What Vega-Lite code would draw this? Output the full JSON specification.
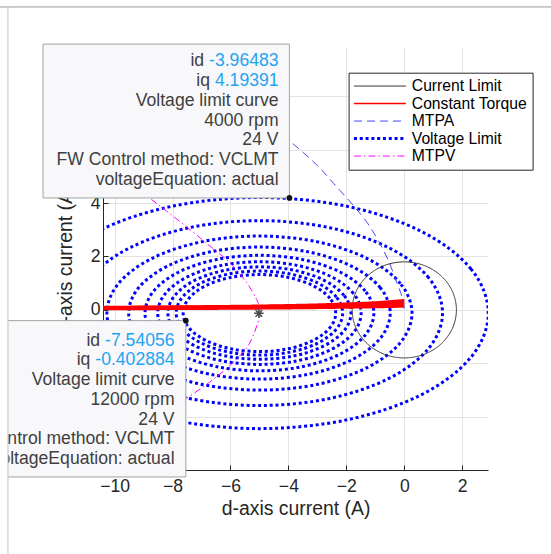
{
  "$schema": "https://vega.github.io/schema/vega-lite/v6.json",
  "width": 385,
  "height": 423,
  "autosize": "none",
  "padding": {"left": 103, "top": 47, "right": 63, "bottom": 84},
  "background": "white",
  "config": {
    "font": "Liberation Sans",
    "view": {"stroke": null},
    "axis": {
      "domainColor": "#262626",
      "tickColor": "#262626",
      "labelColor": "#262626",
      "titleColor": "#262626",
      "labelFontSize": 17.6,
      "titleFontSize": 19.4,
      "titleFontWeight": "normal",
      "gridColor": "#e3e3e3",
      "labelFlush": false,
      "labelOverlap": false
    }
  },
  "datasets": {
    "curves": [
      {"series": "Voltage Limit", "curve": "v4000", "i": 0, "x": 2.9, "y": -0.12},
      {"series": "Voltage Limit", "curve": "v4000", "i": 1, "x": 2.299, "y": 1.537},
      {"series": "Voltage Limit", "curve": "v4000", "i": 2, "x": 0.586, "y": 2.942},
      {"series": "Voltage Limit", "curve": "v4000", "i": 3, "x": -1.977, "y": 3.88},
      {"series": "Voltage Limit", "curve": "v4000", "i": 4, "x": -5, "y": 4.21},
      {"series": "Voltage Limit", "curve": "v4000", "i": 5, "x": -8.023, "y": 3.88},
      {"series": "Voltage Limit", "curve": "v4000", "i": 6, "x": -10.586, "y": 2.942},
      {"series": "Voltage Limit", "curve": "v4000", "i": 7, "x": -12.299, "y": 1.537},
      {"series": "Voltage Limit", "curve": "v4000", "i": 8, "x": -12.9, "y": -0.12},
      {"series": "Voltage Limit", "curve": "v4000", "i": 9, "x": -12.299, "y": -1.777},
      {"series": "Voltage Limit", "curve": "v4000", "i": 10, "x": -10.586, "y": -3.182},
      {"series": "Voltage Limit", "curve": "v4000", "i": 11, "x": -8.023, "y": -4.12},
      {"series": "Voltage Limit", "curve": "v4000", "i": 12, "x": -5, "y": -4.45},
      {"series": "Voltage Limit", "curve": "v4000", "i": 13, "x": -1.977, "y": -4.12},
      {"series": "Voltage Limit", "curve": "v4000", "i": 14, "x": 0.586, "y": -3.182},
      {"series": "Voltage Limit", "curve": "v4000", "i": 15, "x": 2.299, "y": -1.777},

      {"series": "Voltage Limit", "curve": "v5000", "i": 0, "x": 1.32, "y": -0.12},
      {"series": "Voltage Limit", "curve": "v5000", "i": 1, "x": 0.839, "y": 1.206},
      {"series": "Voltage Limit", "curve": "v5000", "i": 2, "x": -0.531, "y": 2.329},
      {"series": "Voltage Limit", "curve": "v5000", "i": 3, "x": -2.581, "y": 3.08},
      {"series": "Voltage Limit", "curve": "v5000", "i": 4, "x": -5, "y": 3.344},
      {"series": "Voltage Limit", "curve": "v5000", "i": 5, "x": -7.419, "y": 3.08},
      {"series": "Voltage Limit", "curve": "v5000", "i": 6, "x": -9.469, "y": 2.329},
      {"series": "Voltage Limit", "curve": "v5000", "i": 7, "x": -10.839, "y": 1.206},
      {"series": "Voltage Limit", "curve": "v5000", "i": 8, "x": -11.32, "y": -0.12},
      {"series": "Voltage Limit", "curve": "v5000", "i": 9, "x": -10.839, "y": -1.446},
      {"series": "Voltage Limit", "curve": "v5000", "i": 10, "x": -9.469, "y": -2.569},
      {"series": "Voltage Limit", "curve": "v5000", "i": 11, "x": -7.419, "y": -3.32},
      {"series": "Voltage Limit", "curve": "v5000", "i": 12, "x": -5, "y": -3.584},
      {"series": "Voltage Limit", "curve": "v5000", "i": 13, "x": -2.581, "y": -3.32},
      {"series": "Voltage Limit", "curve": "v5000", "i": 14, "x": -0.531, "y": -2.569},
      {"series": "Voltage Limit", "curve": "v5000", "i": 15, "x": 0.839, "y": -1.446},

      {"series": "Voltage Limit", "curve": "v6000", "i": 0, "x": 0.267, "y": -0.12},
      {"series": "Voltage Limit", "curve": "v6000", "i": 1, "x": -0.134, "y": 0.985},
      {"series": "Voltage Limit", "curve": "v6000", "i": 2, "x": -1.276, "y": 1.921},
      {"series": "Voltage Limit", "curve": "v6000", "i": 3, "x": -2.984, "y": 2.547},
      {"series": "Voltage Limit", "curve": "v6000", "i": 4, "x": -5, "y": 2.767},
      {"series": "Voltage Limit", "curve": "v6000", "i": 5, "x": -7.016, "y": 2.547},
      {"series": "Voltage Limit", "curve": "v6000", "i": 6, "x": -8.724, "y": 1.921},
      {"series": "Voltage Limit", "curve": "v6000", "i": 7, "x": -9.866, "y": 0.985},
      {"series": "Voltage Limit", "curve": "v6000", "i": 8, "x": -10.267, "y": -0.12},
      {"series": "Voltage Limit", "curve": "v6000", "i": 9, "x": -9.866, "y": -1.225},
      {"series": "Voltage Limit", "curve": "v6000", "i": 10, "x": -8.724, "y": -2.161},
      {"series": "Voltage Limit", "curve": "v6000", "i": 11, "x": -7.016, "y": -2.787},
      {"series": "Voltage Limit", "curve": "v6000", "i": 12, "x": -5, "y": -3.007},
      {"series": "Voltage Limit", "curve": "v6000", "i": 13, "x": -2.984, "y": -2.787},
      {"series": "Voltage Limit", "curve": "v6000", "i": 14, "x": -1.276, "y": -2.161},
      {"series": "Voltage Limit", "curve": "v6000", "i": 15, "x": -0.134, "y": -1.225},

      {"series": "Voltage Limit", "curve": "v7000", "i": 0, "x": -0.486, "y": -0.12},
      {"series": "Voltage Limit", "curve": "v7000", "i": 1, "x": -0.829, "y": 0.827},
      {"series": "Voltage Limit", "curve": "v7000", "i": 2, "x": -1.808, "y": 1.629},
      {"series": "Voltage Limit", "curve": "v7000", "i": 3, "x": -3.272, "y": 2.166},
      {"series": "Voltage Limit", "curve": "v7000", "i": 4, "x": -5, "y": 2.354},
      {"series": "Voltage Limit", "curve": "v7000", "i": 5, "x": -6.728, "y": 2.166},
      {"series": "Voltage Limit", "curve": "v7000", "i": 6, "x": -8.192, "y": 1.629},
      {"series": "Voltage Limit", "curve": "v7000", "i": 7, "x": -9.171, "y": 0.827},
      {"series": "Voltage Limit", "curve": "v7000", "i": 8, "x": -9.514, "y": -0.12},
      {"series": "Voltage Limit", "curve": "v7000", "i": 9, "x": -9.171, "y": -1.067},
      {"series": "Voltage Limit", "curve": "v7000", "i": 10, "x": -8.192, "y": -1.869},
      {"series": "Voltage Limit", "curve": "v7000", "i": 11, "x": -6.728, "y": -2.406},
      {"series": "Voltage Limit", "curve": "v7000", "i": 12, "x": -5, "y": -2.594},
      {"series": "Voltage Limit", "curve": "v7000", "i": 13, "x": -3.272, "y": -2.406},
      {"series": "Voltage Limit", "curve": "v7000", "i": 14, "x": -1.808, "y": -1.869},
      {"series": "Voltage Limit", "curve": "v7000", "i": 15, "x": -0.829, "y": -1.067},

      {"series": "Voltage Limit", "curve": "v8000", "i": 0, "x": -1.05, "y": -0.12},
      {"series": "Voltage Limit", "curve": "v8000", "i": 1, "x": -1.351, "y": 0.709},
      {"series": "Voltage Limit", "curve": "v8000", "i": 2, "x": -2.207, "y": 1.411},
      {"series": "Voltage Limit", "curve": "v8000", "i": 3, "x": -3.488, "y": 1.88},
      {"series": "Voltage Limit", "curve": "v8000", "i": 4, "x": -5, "y": 2.045},
      {"series": "Voltage Limit", "curve": "v8000", "i": 5, "x": -6.512, "y": 1.88},
      {"series": "Voltage Limit", "curve": "v8000", "i": 6, "x": -7.793, "y": 1.411},
      {"series": "Voltage Limit", "curve": "v8000", "i": 7, "x": -8.649, "y": 0.709},
      {"series": "Voltage Limit", "curve": "v8000", "i": 8, "x": -8.95, "y": -0.12},
      {"series": "Voltage Limit", "curve": "v8000", "i": 9, "x": -8.649, "y": -0.949},
      {"series": "Voltage Limit", "curve": "v8000", "i": 10, "x": -7.793, "y": -1.651},
      {"series": "Voltage Limit", "curve": "v8000", "i": 11, "x": -6.512, "y": -2.12},
      {"series": "Voltage Limit", "curve": "v8000", "i": 12, "x": -5, "y": -2.285},
      {"series": "Voltage Limit", "curve": "v8000", "i": 13, "x": -3.488, "y": -2.12},
      {"series": "Voltage Limit", "curve": "v8000", "i": 14, "x": -2.207, "y": -1.651},
      {"series": "Voltage Limit", "curve": "v8000", "i": 15, "x": -1.351, "y": -0.949},

      {"series": "Voltage Limit", "curve": "v9000", "i": 0, "x": -1.489, "y": -0.12},
      {"series": "Voltage Limit", "curve": "v9000", "i": 1, "x": -1.756, "y": 0.616},
      {"series": "Voltage Limit", "curve": "v9000", "i": 2, "x": -2.517, "y": 1.24},
      {"series": "Voltage Limit", "curve": "v9000", "i": 3, "x": -3.656, "y": 1.658},
      {"series": "Voltage Limit", "curve": "v9000", "i": 4, "x": -5, "y": 1.804},
      {"series": "Voltage Limit", "curve": "v9000", "i": 5, "x": -6.344, "y": 1.658},
      {"series": "Voltage Limit", "curve": "v9000", "i": 6, "x": -7.483, "y": 1.24},
      {"series": "Voltage Limit", "curve": "v9000", "i": 7, "x": -8.244, "y": 0.616},
      {"series": "Voltage Limit", "curve": "v9000", "i": 8, "x": -8.511, "y": -0.12},
      {"series": "Voltage Limit", "curve": "v9000", "i": 9, "x": -8.244, "y": -0.856},
      {"series": "Voltage Limit", "curve": "v9000", "i": 10, "x": -7.483, "y": -1.48},
      {"series": "Voltage Limit", "curve": "v9000", "i": 11, "x": -6.344, "y": -1.898},
      {"series": "Voltage Limit", "curve": "v9000", "i": 12, "x": -5, "y": -2.044},
      {"series": "Voltage Limit", "curve": "v9000", "i": 13, "x": -3.656, "y": -1.898},
      {"series": "Voltage Limit", "curve": "v9000", "i": 14, "x": -2.517, "y": -1.48},
      {"series": "Voltage Limit", "curve": "v9000", "i": 15, "x": -1.756, "y": -0.856},

      {"series": "Voltage Limit", "curve": "v10000", "i": 0, "x": -1.84, "y": -0.12},
      {"series": "Voltage Limit", "curve": "v10000", "i": 1, "x": -2.081, "y": 0.543},
      {"series": "Voltage Limit", "curve": "v10000", "i": 2, "x": -2.766, "y": 1.105},
      {"series": "Voltage Limit", "curve": "v10000", "i": 3, "x": -3.791, "y": 1.48},
      {"series": "Voltage Limit", "curve": "v10000", "i": 4, "x": -5, "y": 1.612},
      {"series": "Voltage Limit", "curve": "v10000", "i": 5, "x": -6.209, "y": 1.48},
      {"series": "Voltage Limit", "curve": "v10000", "i": 6, "x": -7.234, "y": 1.105},
      {"series": "Voltage Limit", "curve": "v10000", "i": 7, "x": -7.919, "y": 0.543},
      {"series": "Voltage Limit", "curve": "v10000", "i": 8, "x": -8.16, "y": -0.12},
      {"series": "Voltage Limit", "curve": "v10000", "i": 9, "x": -7.919, "y": -0.783},
      {"series": "Voltage Limit", "curve": "v10000", "i": 10, "x": -7.234, "y": -1.345},
      {"series": "Voltage Limit", "curve": "v10000", "i": 11, "x": -6.209, "y": -1.72},
      {"series": "Voltage Limit", "curve": "v10000", "i": 12, "x": -5, "y": -1.852},
      {"series": "Voltage Limit", "curve": "v10000", "i": 13, "x": -3.791, "y": -1.72},
      {"series": "Voltage Limit", "curve": "v10000", "i": 14, "x": -2.766, "y": -1.345},
      {"series": "Voltage Limit", "curve": "v10000", "i": 15, "x": -2.081, "y": -0.783},

      {"series": "Voltage Limit", "curve": "v11000", "i": 0, "x": -2.127, "y": -0.12},
      {"series": "Voltage Limit", "curve": "v11000", "i": 1, "x": -2.346, "y": 0.483},
      {"series": "Voltage Limit", "curve": "v11000", "i": 2, "x": -2.969, "y": 0.994},
      {"series": "Voltage Limit", "curve": "v11000", "i": 3, "x": -3.901, "y": 1.335},
      {"series": "Voltage Limit", "curve": "v11000", "i": 4, "x": -5, "y": 1.455},
      {"series": "Voltage Limit", "curve": "v11000", "i": 5, "x": -6.099, "y": 1.335},
      {"series": "Voltage Limit", "curve": "v11000", "i": 6, "x": -7.031, "y": 0.994},
      {"series": "Voltage Limit", "curve": "v11000", "i": 7, "x": -7.654, "y": 0.483},
      {"series": "Voltage Limit", "curve": "v11000", "i": 8, "x": -7.873, "y": -0.12},
      {"series": "Voltage Limit", "curve": "v11000", "i": 9, "x": -7.654, "y": -0.723},
      {"series": "Voltage Limit", "curve": "v11000", "i": 10, "x": -7.031, "y": -1.234},
      {"series": "Voltage Limit", "curve": "v11000", "i": 11, "x": -6.099, "y": -1.575},
      {"series": "Voltage Limit", "curve": "v11000", "i": 12, "x": -5, "y": -1.695},
      {"series": "Voltage Limit", "curve": "v11000", "i": 13, "x": -3.901, "y": -1.575},
      {"series": "Voltage Limit", "curve": "v11000", "i": 14, "x": -2.969, "y": -1.234},
      {"series": "Voltage Limit", "curve": "v11000", "i": 15, "x": -2.346, "y": -0.723},

      {"series": "Voltage Limit", "curve": "v12000", "i": 0, "x": -2.367, "y": -0.12},
      {"series": "Voltage Limit", "curve": "v12000", "i": 1, "x": -2.567, "y": 0.432},
      {"series": "Voltage Limit", "curve": "v12000", "i": 2, "x": -3.138, "y": 0.9},
      {"series": "Voltage Limit", "curve": "v12000", "i": 3, "x": -3.992, "y": 1.213},
      {"series": "Voltage Limit", "curve": "v12000", "i": 4, "x": -5, "y": 1.323},
      {"series": "Voltage Limit", "curve": "v12000", "i": 5, "x": -6.008, "y": 1.213},
      {"series": "Voltage Limit", "curve": "v12000", "i": 6, "x": -6.862, "y": 0.9},
      {"series": "Voltage Limit", "curve": "v12000", "i": 7, "x": -7.433, "y": 0.432},
      {"series": "Voltage Limit", "curve": "v12000", "i": 8, "x": -7.633, "y": -0.12},
      {"series": "Voltage Limit", "curve": "v12000", "i": 9, "x": -7.433, "y": -0.672},
      {"series": "Voltage Limit", "curve": "v12000", "i": 10, "x": -6.862, "y": -1.14},
      {"series": "Voltage Limit", "curve": "v12000", "i": 11, "x": -6.008, "y": -1.453},
      {"series": "Voltage Limit", "curve": "v12000", "i": 12, "x": -5, "y": -1.563},
      {"series": "Voltage Limit", "curve": "v12000", "i": 13, "x": -3.992, "y": -1.453},
      {"series": "Voltage Limit", "curve": "v12000", "i": 14, "x": -3.138, "y": -1.14},
      {"series": "Voltage Limit", "curve": "v12000", "i": 15, "x": -2.567, "y": -0.672},

      {"series": "Current Limit", "curve": "c", "i": 0, "x": 1.8, "y": 0},
      {"series": "Current Limit", "curve": "c", "i": 1, "x": 1.663, "y": 0.689},
      {"series": "Current Limit", "curve": "c", "i": 2, "x": 1.273, "y": 1.273},
      {"series": "Current Limit", "curve": "c", "i": 3, "x": 0.689, "y": 1.663},
      {"series": "Current Limit", "curve": "c", "i": 4, "x": 0, "y": 1.8},
      {"series": "Current Limit", "curve": "c", "i": 5, "x": -0.689, "y": 1.663},
      {"series": "Current Limit", "curve": "c", "i": 6, "x": -1.273, "y": 1.273},
      {"series": "Current Limit", "curve": "c", "i": 7, "x": -1.663, "y": 0.689},
      {"series": "Current Limit", "curve": "c", "i": 8, "x": -1.8, "y": 0},
      {"series": "Current Limit", "curve": "c", "i": 9, "x": -1.663, "y": -0.689},
      {"series": "Current Limit", "curve": "c", "i": 10, "x": -1.273, "y": -1.273},
      {"series": "Current Limit", "curve": "c", "i": 11, "x": -0.689, "y": -1.663},
      {"series": "Current Limit", "curve": "c", "i": 12, "x": 0, "y": -1.8},
      {"series": "Current Limit", "curve": "c", "i": 13, "x": 0.689, "y": -1.663},
      {"series": "Current Limit", "curve": "c", "i": 14, "x": 1.273, "y": -1.273},
      {"series": "Current Limit", "curve": "c", "i": 15, "x": 1.663, "y": -0.689},

      {"series": "Constant Torque", "curve": "t1", "i": 0, "x": -10.5, "y": 0.02},
      {"series": "Constant Torque", "curve": "t1", "i": 1, "x": -8, "y": 0.03},
      {"series": "Constant Torque", "curve": "t1", "i": 2, "x": -6, "y": 0.04},
      {"series": "Constant Torque", "curve": "t1", "i": 3, "x": -4, "y": 0.055},
      {"series": "Constant Torque", "curve": "t1", "i": 4, "x": -2, "y": 0.08},
      {"series": "Constant Torque", "curve": "t1", "i": 5, "x": -1, "y": 0.096},
      {"series": "Constant Torque", "curve": "t1", "i": 6, "x": 0, "y": 0.12},
      {"series": "Constant Torque", "curve": "t2", "i": 0, "x": -10.5, "y": 0.045},
      {"series": "Constant Torque", "curve": "t2", "i": 1, "x": -8, "y": 0.056},
      {"series": "Constant Torque", "curve": "t2", "i": 2, "x": -6, "y": 0.068},
      {"series": "Constant Torque", "curve": "t2", "i": 3, "x": -4, "y": 0.084},
      {"series": "Constant Torque", "curve": "t2", "i": 4, "x": -2, "y": 0.112},
      {"series": "Constant Torque", "curve": "t2", "i": 5, "x": -1, "y": 0.135},
      {"series": "Constant Torque", "curve": "t2", "i": 6, "x": 0, "y": 0.168},
      {"series": "Constant Torque", "curve": "t3", "i": 0, "x": -10.5, "y": 0.07},
      {"series": "Constant Torque", "curve": "t3", "i": 1, "x": -8, "y": 0.08},
      {"series": "Constant Torque", "curve": "t3", "i": 2, "x": -6, "y": 0.094},
      {"series": "Constant Torque", "curve": "t3", "i": 3, "x": -4, "y": 0.113},
      {"series": "Constant Torque", "curve": "t3", "i": 4, "x": -2, "y": 0.144},
      {"series": "Constant Torque", "curve": "t3", "i": 5, "x": -1, "y": 0.173},
      {"series": "Constant Torque", "curve": "t3", "i": 6, "x": 0, "y": 0.216},
      {"series": "Constant Torque", "curve": "t4", "i": 0, "x": -10.5, "y": 0.09},
      {"series": "Constant Torque", "curve": "t4", "i": 1, "x": -8, "y": 0.102},
      {"series": "Constant Torque", "curve": "t4", "i": 2, "x": -6, "y": 0.116},
      {"series": "Constant Torque", "curve": "t4", "i": 3, "x": -4, "y": 0.14},
      {"series": "Constant Torque", "curve": "t4", "i": 4, "x": -2, "y": 0.176},
      {"series": "Constant Torque", "curve": "t4", "i": 5, "x": -1, "y": 0.211},
      {"series": "Constant Torque", "curve": "t4", "i": 6, "x": 0, "y": 0.264},
      {"series": "Constant Torque", "curve": "t5", "i": 0, "x": -10.5, "y": 0.105},
      {"series": "Constant Torque", "curve": "t5", "i": 1, "x": -8, "y": 0.12},
      {"series": "Constant Torque", "curve": "t5", "i": 2, "x": -6, "y": 0.135},
      {"series": "Constant Torque", "curve": "t5", "i": 3, "x": -4, "y": 0.162},
      {"series": "Constant Torque", "curve": "t5", "i": 4, "x": -2, "y": 0.208},
      {"series": "Constant Torque", "curve": "t5", "i": 5, "x": -1, "y": 0.25},
      {"series": "Constant Torque", "curve": "t5", "i": 6, "x": 0, "y": 0.312},
      {"series": "Constant Torque", "curve": "t6", "i": 0, "x": -10.5, "y": 0.115},
      {"series": "Constant Torque", "curve": "t6", "i": 1, "x": -8, "y": 0.132},
      {"series": "Constant Torque", "curve": "t6", "i": 2, "x": -6, "y": 0.15},
      {"series": "Constant Torque", "curve": "t6", "i": 3, "x": -4, "y": 0.181},
      {"series": "Constant Torque", "curve": "t6", "i": 4, "x": -2, "y": 0.24},
      {"series": "Constant Torque", "curve": "t6", "i": 5, "x": -1, "y": 0.288},
      {"series": "Constant Torque", "curve": "t6", "i": 6, "x": 0, "y": 0.37},

      {"series": "MTPA", "curve": "mtpa", "i": 0, "x": 0, "y": 0.05},
      {"series": "MTPA", "curve": "mtpa", "i": 1, "x": -0.08, "y": 0.5},
      {"series": "MTPA", "curve": "mtpa", "i": 2, "x": -0.25, "y": 1.0},
      {"series": "MTPA", "curve": "mtpa", "i": 3, "x": -0.55, "y": 1.85},
      {"series": "MTPA", "curve": "mtpa", "i": 4, "x": -0.9, "y": 2.6},
      {"series": "MTPA", "curve": "mtpa", "i": 5, "x": -1.3, "y": 3.3},
      {"series": "MTPA", "curve": "mtpa", "i": 6, "x": -1.83, "y": 4.0},
      {"series": "MTPA", "curve": "mtpa", "i": 7, "x": -2.45, "y": 4.75},
      {"series": "MTPA", "curve": "mtpa", "i": 8, "x": -3.04, "y": 5.45},
      {"series": "MTPA", "curve": "mtpa", "i": 9, "x": -4.01, "y": 6.37},
      {"series": "MTPA", "curve": "mtpa", "i": 10, "x": -5.2, "y": 7.3},

      {"series": "MTPV", "curve": "mtpv", "i": 0, "x": -10.3, "y": 5.5},
      {"series": "MTPV", "curve": "mtpv", "i": 1, "x": -9.5, "y": 4.8},
      {"series": "MTPV", "curve": "mtpv", "i": 2, "x": -8.8, "y": 4.2},
      {"series": "MTPV", "curve": "mtpv", "i": 3, "x": -8.2, "y": 3.7},
      {"series": "MTPV", "curve": "mtpv", "i": 4, "x": -7.4, "y": 3.01},
      {"series": "MTPV", "curve": "mtpv", "i": 5, "x": -6.71, "y": 2.39},
      {"series": "MTPV", "curve": "mtpv", "i": 6, "x": -6.02, "y": 1.77},
      {"series": "MTPV", "curve": "mtpv", "i": 7, "x": -5.44, "y": 1.02},
      {"series": "MTPV", "curve": "mtpv", "i": 8, "x": -5.1, "y": 0.39},
      {"series": "MTPV", "curve": "mtpv", "i": 9, "x": -4.98, "y": 0.08},
      {"series": "MTPV", "curve": "mtpv", "i": 10, "x": -4.98, "y": -0.23},
      {"series": "MTPV", "curve": "mtpv", "i": 11, "x": -5.33, "y": -1.23},
      {"series": "MTPV", "curve": "mtpv", "i": 12, "x": -5.79, "y": -1.85},
      {"series": "MTPV", "curve": "mtpv", "i": 13, "x": -6.59, "y": -2.6},
      {"series": "MTPV", "curve": "mtpv", "i": 14, "x": -7.57, "y": -3.35},
      {"series": "MTPV", "curve": "mtpv", "i": 15, "x": -8.6, "y": -4.0},
      {"series": "MTPV", "curve": "mtpv", "i": 16, "x": -9.6, "y": -4.6}
    ],
    "tips": [
      {"id": -3.96483, "iq": 4.19391, "boxX": -12.47, "boxY": 9.96, "textX": -4.34, "textY": 9.12, "infoY": 7.644,
       "info": "Voltage limit curve\n4000 rpm\n24 V\nFW Control method: VCLMT\nvoltageEquation: actual",
       "vals": "-3.96483\n4.19391"},
      {"id": -7.54056, "iq": -0.402884, "boxX": -14.5, "boxY": -6.26, "textX": -7.93, "textY": -1.345, "infoY": -2.821,
       "info": "Voltage limit curve\n12000 rpm\n24 V\nFW Control method: VCLMT\nvoltageEquation: actual",
       "vals": "-7.54056\n-0.402884"}
    ],
    "tipLabels": [
      {"label": "id", "x": -6.908, "y": 9.12},
      {"label": "iq", "x": -6.705, "y": 8.382},
      {"label": "id", "x": -10.498, "y": -1.345},
      {"label": "iq", "x": -10.835, "y": -2.083}
    ],
    "frame": [
      {"outer": -16, "edge": -13.68, "right": 7, "bottom": -11, "top": 11.35, "over": 12}
    ]
  },
  "encoding": {
    "x": {"field": "x", "type": "quantitative",
      "scale": {"domain": [-10.4, 2.89], "nice": false, "zero": false},
      "axis": {"title": "d-axis current (A)", "values": [-10, -8, -6, -4, -2, 0, 2], "grid": true, "tickSize": -5, "labelPadding": 12, "titlePadding": 5}},
    "y": {"field": "y", "type": "quantitative",
      "scale": {"domain": [-6, 9.85], "nice": false, "zero": false},
      "axis": {"title": "q-axis current (A)", "values": [-6, -4, -2, 0, 2, 4, 6, 8], "grid": true, "tickSize": -5, "labelPadding": 8, "titlePadding": 4}}
  },
  "layer": [
    {
      "data": {"name": "curves"},
      "transform": [{"filter": "datum.series === 'Voltage Limit'"}],
      "mark": {"type": "line", "interpolate": "cardinal-closed", "strokeWidth": 3, "clip": true},
      "encoding": {
        "color": {"field": "series", "type": "nominal",
          "scale": {"domain": ["Current Limit", "Constant Torque", "MTPA", "Voltage Limit", "MTPV"], "range": ["#333333", "#ff0000", "#4747ff", "#0000ff", "#ff00ff"]},
          "legend": {"title": null, "orient": "none", "legendX": 245.6, "legendY": 25.7, "symbolType": "M-5,0H5", "symbolSize": 108, "symbolOffset": 18, "labelOffset": 24, "rowPadding": 0.5, "padding": 5.5, "fillColor": "white", "strokeColor": "#262626", "labelFontSize": 15.7, "labelColor": "#000000", "labelFont": "Liberation Sans",
            "encode": {"symbols": {"update": {"strokeWidth": {"signal": "datum.label === 'Voltage Limit' ? 3 : datum.label === 'Constant Torque' ? 1.5 : 1"}}}}}},
        "strokeDash": {"field": "series", "type": "nominal",
          "scale": {"domain": ["Current Limit", "Constant Torque", "MTPA", "Voltage Limit", "MTPV"], "range": [[1, 0], [1, 0], [8, 5], [3, 2.8], [7, 3, 1.5, 3]]},
          "legend": {"title": null}},
        "detail": {"field": "curve"},
        "order": {"field": "i", "type": "quantitative"}
      }
    },
    {
      "data": {"name": "curves"},
      "transform": [{"filter": "datum.series === 'Current Limit'"}],
      "mark": {"type": "line", "interpolate": "cardinal-closed", "strokeWidth": 1, "clip": true},
      "encoding": {
        "color": {"field": "series", "type": "nominal", "legend": {"title": null}},
        "strokeDash": {"field": "series", "type": "nominal", "legend": {"title": null}},
        "detail": {"field": "curve"},
        "order": {"field": "i", "type": "quantitative"}
      }
    },
    {
      "data": {"name": "curves"},
      "transform": [{"filter": "datum.series === 'Constant Torque'"}],
      "mark": {"type": "line", "interpolate": "monotone", "strokeWidth": 2, "clip": true},
      "encoding": {
        "color": {"field": "series", "type": "nominal", "legend": {"title": null}},
        "strokeDash": {"field": "series", "type": "nominal", "legend": {"title": null}},
        "detail": {"field": "curve"},
        "order": {"field": "i", "type": "quantitative"}
      }
    },
    {
      "data": {"name": "curves"},
      "transform": [{"filter": "datum.series === 'MTPA' || datum.series === 'MTPV'"}],
      "mark": {"type": "line", "interpolate": "cardinal", "strokeWidth": 1, "clip": true},
      "encoding": {
        "color": {"field": "series", "type": "nominal", "legend": {"title": null}},
        "strokeDash": {"field": "series", "type": "nominal", "legend": {"title": null}},
        "detail": {"field": "curve"},
        "order": {"field": "i", "type": "quantitative"}
      }
    },
    {
      "data": {"values": [{"x": -5.02, "y": -0.13}]},
      "mark": {"type": "point", "shape": "M-1,0L1,0M0,-1L0,1M-0.7,-0.7L0.7,0.7M-0.7,0.7L0.7,-0.7", "size": 90, "filled": false, "stroke": "#4a4a4a", "strokeWidth": 1.5, "opacity": 1}
    },
    {
      "data": {"name": "tips"},
      "mark": {"type": "rect", "fill": "#f8f8fb", "stroke": "#a3a3a3", "strokeWidth": 1},
      "encoding": {
        "x": {"field": "boxX", "type": "quantitative", "title": "d-axis current (A)"},
        "x2": {"field": "id"},
        "y": {"field": "iq", "type": "quantitative", "title": "q-axis current (A)"},
        "y2": {"field": "boxY"}
      }
    },
    {
      "data": {"name": "tips"},
      "mark": {"type": "point", "filled": true, "size": 32, "color": "#111111", "opacity": 1},
      "encoding": {
        "x": {"field": "id", "type": "quantitative", "title": "d-axis current (A)"},
        "y": {"field": "iq", "type": "quantitative", "title": "q-axis current (A)"}
      }
    },
    {
      "data": {"name": "tips"},
      "mark": {"type": "text", "align": "right", "baseline": "alphabetic", "lineBreak": "\n", "lineHeight": 19.7, "fontSize": 17.6, "color": "#404040"},
      "encoding": {
        "x": {"field": "textX", "type": "quantitative", "title": "d-axis current (A)"},
        "y": {"field": "infoY", "type": "quantitative", "title": "q-axis current (A)"},
        "text": {"field": "info"}
      }
    },
    {
      "data": {"name": "tips"},
      "mark": {"type": "text", "align": "right", "baseline": "alphabetic", "lineBreak": "\n", "lineHeight": 19.7, "fontSize": 17.6, "color": "#1ea4f0"},
      "encoding": {
        "x": {"field": "textX", "type": "quantitative", "title": "d-axis current (A)"},
        "y": {"field": "textY", "type": "quantitative", "title": "q-axis current (A)"},
        "text": {"field": "vals"}
      }
    },
    {
      "data": {"name": "tipLabels"},
      "mark": {"type": "text", "align": "right", "baseline": "alphabetic", "fontSize": 17.6, "color": "#404040"},
      "encoding": {
        "text": {"field": "label"}
      }
    },
    {
      "data": {"name": "frame"},
      "mark": {"type": "rect", "fill": "white"},
      "encoding": {
        "x": {"field": "outer", "type": "quantitative", "title": "d-axis current (A)"},
        "x2": {"field": "edge"},
        "y": {"field": "bottom", "type": "quantitative", "title": "q-axis current (A)"},
        "y2": {"field": "over"}
      }
    },
    {
      "data": {"name": "frame"},
      "mark": {"type": "rule", "stroke": "#c4c4c4", "strokeWidth": 1},
      "encoding": {
        "x": {"field": "edge", "type": "quantitative", "title": "d-axis current (A)"},
        "y": {"field": "bottom", "type": "quantitative", "title": "q-axis current (A)"},
        "y2": {"field": "top"}
      }
    },
    {
      "data": {"name": "frame"},
      "mark": {"type": "rule", "stroke": "#9a9a9a", "strokeWidth": 1},
      "encoding": {
        "x": {"field": "outer", "type": "quantitative", "title": "d-axis current (A)"},
        "x2": {"field": "right"},
        "y": {"field": "top", "type": "quantitative", "title": "q-axis current (A)"}
      }
    }
  ]
}
